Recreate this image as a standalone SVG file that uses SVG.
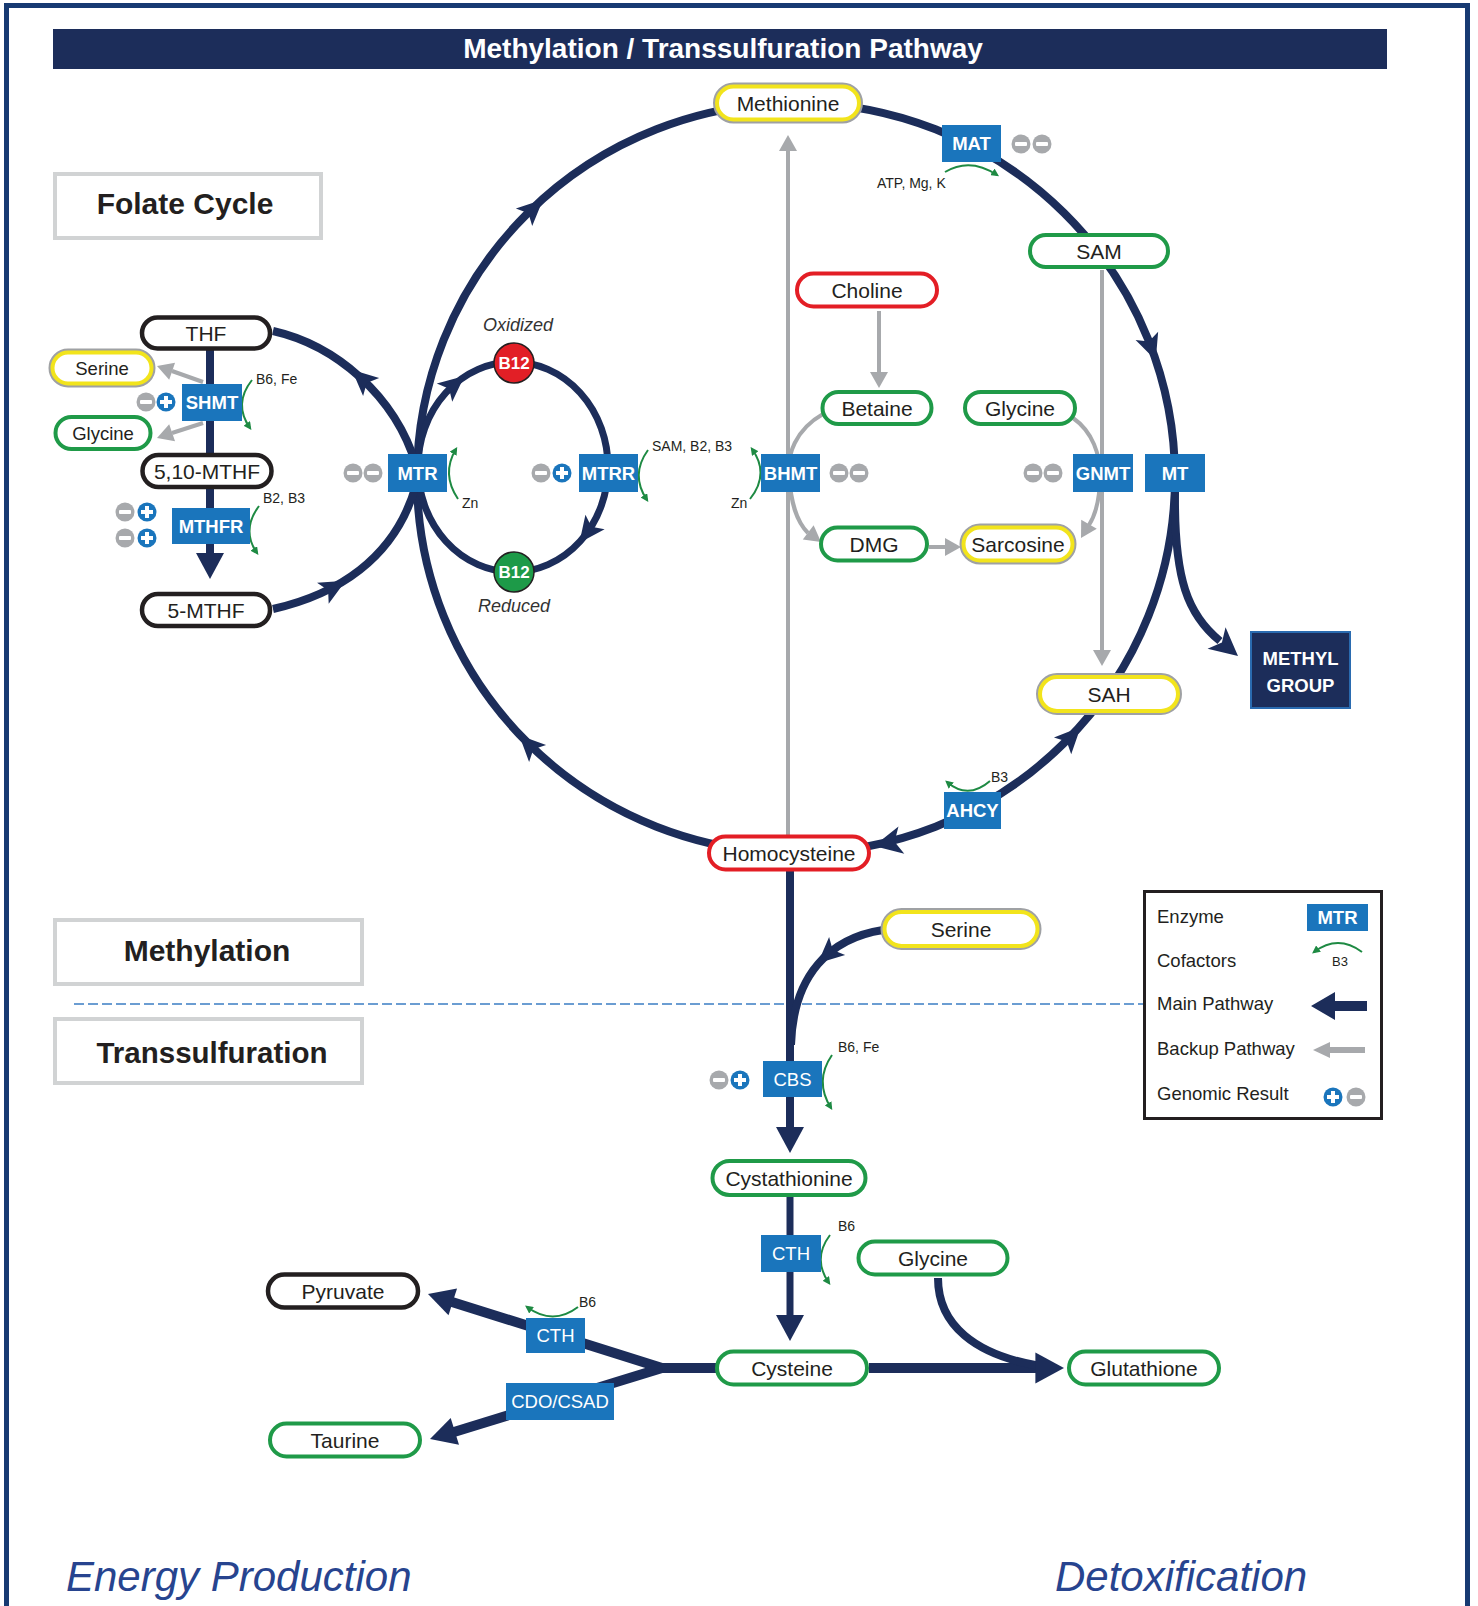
<svg xmlns="http://www.w3.org/2000/svg" width="1478" height="1606" viewBox="0 0 1478 1606">
<defs>
<style>
text{font-family:"Liberation Sans",Arial,Helvetica,sans-serif;fill:#231f20}
.nav{fill:none;stroke:#1c2d5a;stroke-width:8}
.gry{fill:none;stroke:#a7a9ac;stroke-width:4}
.cof{fill:none;stroke:#1e8a43;stroke-width:2;marker-end:url(#cm)}
.enz{fill:#1a75bc}
.et{font-size:18.5px;font-weight:bold;fill:#fff;text-anchor:middle}
.er{font-size:18.5px;fill:#fff;text-anchor:middle}
.nt{font-size:21px;text-anchor:middle}
.ns{font-size:18.5px;text-anchor:middle}
.pg{fill:#fff;stroke:#1f9a48;stroke-width:4}
.pr{fill:#fff;stroke:#e31e25;stroke-width:4}
.pk{fill:#fff;stroke:#231f20;stroke-width:4.5}
.py{fill:#fff;stroke:#f2e41c;stroke-width:4}
.pyo{fill:none;stroke:#9fa1a4;stroke-width:8}
.cl{font-size:14px}
.sec{fill:#fff;stroke:#d1d3d4;stroke-width:4}
.secT{font-size:30px;font-weight:bold;text-anchor:middle}
.lg{font-size:18.5px}
.big{font-size:42px;font-style:italic;fill:#27448f}
.b12{font-size:17px;font-weight:bold;fill:#fff;text-anchor:middle}
.it{font-size:18px;font-style:italic;text-anchor:middle;fill:#333}
</style>
<marker id="cm" viewBox="0 0 10 10" refX="7" refY="5" markerWidth="8" markerHeight="8" orient="auto" markerUnits="userSpaceOnUse"><path d="M0,0 L10,5 L0,10 Z" fill="#1e8a43"/></marker>
<path id="ma" d="M11,0 L-15,-12 L-9,0 L-15,12 Z" fill="#1c2d5a"/>
<path id="mb" d="M0,0 L-28,-14 L-21,0 L-28,14 Z" fill="#1c2d5a"/>
<path id="ea" d="M0,0 L-26,-14 L-26,14 Z" fill="#1c2d5a"/>
<path id="ga" d="M0,0 L-16,-9 L-16,9 Z" fill="#a7a9ac"/>
<g id="minus"><circle r="9.5" fill="#a7a9ac"/><rect x="-6" y="-2" width="12" height="4" rx="1" fill="#fff"/></g>
<g id="plus"><circle r="9.5" fill="#1a75bc"/><rect x="-6" y="-2" width="12" height="4" fill="#fff"/><rect x="-2" y="-6" width="4" height="12" fill="#fff"/></g>
</defs>

<rect x="0" y="0" width="1478" height="1606" fill="#fff"/>
<rect x="6.5" y="5.5" width="1461" height="1650" fill="none" stroke="#173a72" stroke-width="5"/>

<g id="title">
<rect x="53" y="29" width="1334" height="40" fill="#1c2d5a"/>
<text x="723" y="58" style="font-size:28px;font-weight:bold;fill:#fff;text-anchor:middle">Methylation / Transsulfuration Pathway</text>
</g>

<g id="sections">
<rect class="sec" x="55" y="174" width="266" height="64"/>
<text class="secT" x="185" y="214">Folate Cycle</text>
<rect class="sec" x="55" y="920" width="307" height="64"/>
<text class="secT" x="207" y="961">Methylation</text>
<rect class="sec" x="55" y="1019" width="307" height="64"/>
<text class="secT" x="212" y="1063" style="font-size:29.5px">Transsulfuration</text>
<line x1="74" y1="1004" x2="1143" y2="1004" stroke="#3b7dc4" stroke-width="1.5" stroke-dasharray="10,4"/>
</g>

<g id="connectors">
<line class="gry" x1="788" y1="835" x2="788" y2="150"/>
<use href="#ga" transform="translate(788 135) rotate(-90)"/>
<line class="gry" x1="879" y1="311" x2="879" y2="373"/>
<use href="#ga" transform="translate(879 388) rotate(90)"/>
<path class="gry" d="M823,414 C795,430 787,455 789,475 C791,505 797,522 808,533"/>
<use href="#ga" transform="translate(821 542) rotate(37)"/>
<line class="gry" x1="929" y1="547" x2="946" y2="547"/>
<use href="#ga" transform="translate(961 547) rotate(0)"/>
<path class="gry" d="M1073,418 C1093,432 1100,455 1100,475 C1100,500 1096,514 1089,525"/>
<use href="#ga" transform="translate(1081 538) rotate(120)"/>
<line class="gry" x1="1102" y1="270" x2="1102" y2="651"/>
<use href="#ga" transform="translate(1102 666) rotate(90)"/>
<line class="gry" x1="203" y1="382" x2="172" y2="371"/>
<use href="#ga" transform="translate(157 366) rotate(199)"/>
<line class="gry" x1="203" y1="423" x2="172" y2="433"/>
<use href="#ga" transform="translate(157 438) rotate(161)"/>

<ellipse class="nav" cx="796" cy="478" rx="379" ry="375"/>
<ellipse class="nav" cx="513" cy="467" rx="95" ry="105" style="stroke-width:7"/>
<path class="nav" d="M416,465 C395,395 335,345 273,331"/>
<path class="nav" d="M273,609 C335,595 395,560 416,485"/>
<path class="nav" d="M1175,492 C1174,580 1188,615 1220,641"/>
<line class="nav" x1="210" y1="350" x2="210" y2="455"/>
<line class="nav" x1="210" y1="489" x2="210" y2="556"/>
<line class="nav" x1="790" y1="871" x2="790" y2="1130"/>
<path class="nav" d="M883,930 C830,938 793,975 791,1045"/>
<line class="nav" x1="790" y1="1197" x2="790" y2="1318" style="stroke-width:7"/>
<line class="nav" x1="869" y1="1368" x2="1040" y2="1368" style="stroke-width:10"/>
<path class="nav" d="M938,1278 C938,1325 975,1355 1040,1366"/>
<path class="nav" d="M716,1368 L662,1368 L452,1302" style="stroke-width:10"/>
<path class="nav" d="M662,1368 L454,1432" style="stroke-width:10"/>

<use href="#ma" transform="translate(535 207) rotate(-43)"/>
<use href="#ma" transform="translate(527 743) rotate(-135)"/>
<use href="#ma" transform="translate(1152 350) rotate(70)"/>
<use href="#ma" transform="translate(1073 735) rotate(-46)"/>
<use href="#mb" transform="translate(874 846) rotate(168)"/>
<use href="#ma" transform="translate(456 383) rotate(-40)"/>
<use href="#ma" transform="translate(586 534) rotate(127)"/>
<use href="#ma" transform="translate(360 377) rotate(-138)"/>
<use href="#ma" transform="translate(336 586) rotate(-29)"/>
<use href="#ma" transform="translate(826 956) rotate(138)"/>
<use href="#mb" transform="translate(1238 656) rotate(40)"/>
<use href="#ea" transform="translate(210 579) rotate(90)"/>
<use href="#ea" transform="translate(790 1153) rotate(90)"/>
<use href="#ea" transform="translate(790 1341) rotate(90)"/>
<use href="#ea" transform="translate(1064 1368) scale(1.1)"/>
<use href="#ea" transform="translate(428 1294) rotate(197.7)"/>
<use href="#ea" transform="translate(430 1439) rotate(162.8)"/>
</g>

<g id="cofactors">
<path class="cof" d="M252,380 Q233,404 250,428"/>
<text class="cl" x="256" y="384">B6, Fe</text>
<path class="cof" d="M259,506 Q241,530 257,553"/>
<text class="cl" x="263" y="503">B2, B3</text>
<path class="cof" d="M458,499 Q441,474 456,449"/>
<text class="cl" x="462" y="508">Zn</text>
<path class="cof" d="M648,450 Q630,475 647,500"/>
<text class="cl" x="652" y="451">SAM, B2, B3</text>
<path class="cof" d="M750,499 Q770,474 752,449"/>
<text class="cl" x="731" y="508">Zn</text>
<path class="cof" d="M945,172 Q970,157 997,175"/>
<text class="cl" x="877" y="188">ATP, Mg, K</text>
<path class="cof" d="M990,781 Q968,800 947,782"/>
<text class="cl" x="991" y="782">B3</text>
<path class="cof" d="M832,1055 Q814,1081 831,1108"/>
<text class="cl" x="838" y="1052">B6, Fe</text>
<path class="cof" d="M830,1235 Q812,1259 829,1283"/>
<text class="cl" x="838" y="1231">B6</text>
<path class="cof" d="M578,1307 Q553,1326 527,1307"/>
<text class="cl" x="579" y="1307">B6</text>
</g>

<g id="genomic">
<use href="#minus" x="1021" y="144"/><use href="#minus" x="1042" y="144"/>
<use href="#minus" x="146" y="402"/><use href="#plus" x="166" y="402"/>
<use href="#minus" x="125" y="512"/><use href="#plus" x="147" y="512"/>
<use href="#minus" x="125" y="538"/><use href="#plus" x="147" y="538"/>
<use href="#minus" x="353" y="473"/><use href="#minus" x="373" y="473"/>
<use href="#minus" x="541" y="473"/><use href="#plus" x="562" y="473"/>
<use href="#minus" x="839" y="473"/><use href="#minus" x="859" y="473"/>
<use href="#minus" x="1033" y="473"/><use href="#minus" x="1053" y="473"/>
<use href="#minus" x="719" y="1080"/><use href="#plus" x="740" y="1080"/>
</g>

<g id="enzymes">
<g id="MAT"><rect class="enz" x="942" y="125" width="59" height="37"/><text class="et" x="971.5" y="150">MAT</text></g>
<g id="SHMT"><rect class="enz" x="182" y="384" width="60" height="37"/><text class="et" x="212" y="409">SHMT</text></g>
<g id="MTHFR"><rect class="enz" x="172" y="508" width="78" height="36"/><text class="et" x="211" y="532.5">MTHFR</text></g>
<g id="MTR"><rect class="enz" x="388" y="454" width="59" height="38"/><text class="et" x="417.5" y="479.5">MTR</text></g>
<g id="MTRR"><rect class="enz" x="579" y="454" width="59" height="38"/><text class="et" x="608.5" y="479.5">MTRR</text></g>
<g id="BHMT"><rect class="enz" x="761" y="454" width="59" height="38"/><text class="et" x="790.5" y="479.5">BHMT</text></g>
<g id="GNMT"><rect class="enz" x="1073" y="454" width="60" height="38"/><text class="et" x="1103" y="479.5">GNMT</text></g>
<g id="MT"><rect class="enz" x="1145" y="454" width="60" height="38"/><text class="et" x="1175" y="479.5">MT</text></g>
<g id="AHCY"><rect class="enz" x="944" y="792" width="57" height="37"/><text class="et" x="972.5" y="817">AHCY</text></g>
<g id="CBS"><rect class="enz" x="763" y="1061" width="59" height="36"/><text class="er" x="792.5" y="1085.5">CBS</text></g>
<g id="CTH1"><rect class="enz" x="761" y="1235" width="60" height="37"/><text class="er" x="791" y="1260">CTH</text></g>
<g id="CTH2"><rect class="enz" x="526" y="1318" width="59" height="35"/><text class="er" x="555.5" y="1342">CTH</text></g>
<g id="CDO"><rect class="enz" x="506" y="1383" width="108" height="37"/><text class="er" x="560" y="1408">CDO/CSAD</text></g>
</g>

<g id="nodes">
<g id="Methionine"><rect class="pyo" x="717" y="86.5" width="142" height="33" rx="16.5"/><rect class="py" x="717" y="86.5" width="142" height="33" rx="16.5"/><text class="nt" x="788" y="110.5">Methionine</text></g>
<g id="SAM"><rect class="pg" x="1030" y="235" width="138" height="32" rx="16"/><text class="nt" x="1099" y="258.5">SAM</text></g>
<g id="Choline"><rect class="pr" x="797" y="273.5" width="140" height="33" rx="16.5"/><text class="nt" x="867" y="297.5">Choline</text></g>
<g id="Betaine"><rect class="pg" x="822.5" y="392" width="109" height="32" rx="16"/><text class="nt" x="877" y="415.5">Betaine</text></g>
<g id="GlycineR"><rect class="pg" x="965" y="392" width="110" height="32" rx="16"/><text class="nt" x="1020" y="415.5">Glycine</text></g>
<g id="DMG"><rect class="pg" x="821" y="527.5" width="106" height="33" rx="16.5"/><text class="nt" x="874" y="551.5">DMG</text></g>
<g id="Sarcosine"><rect class="pyo" x="963.5" y="527.5" width="109" height="33" rx="16.5"/><rect class="py" x="963.5" y="527.5" width="109" height="33" rx="16.5"/><text class="nt" x="1018" y="551.5">Sarcosine</text></g>
<g id="SAH"><rect class="pyo" x="1040" y="677" width="138" height="34" rx="17"/><rect class="py" x="1040" y="677" width="138" height="34" rx="17"/><text class="nt" x="1109" y="701.5">SAH</text></g>
<g id="Homocysteine"><rect class="pr" x="709" y="836.5" width="160" height="33" rx="16.5"/><text class="nt" x="789" y="860.5">Homocysteine</text></g>
<g id="SerineT"><rect class="pyo" x="884.5" y="912" width="153" height="34" rx="17"/><rect class="py" x="884.5" y="912" width="153" height="34" rx="17"/><text class="nt" x="961" y="936.5">Serine</text></g>
<g id="Cystathionine"><rect class="pg" x="712.5" y="1161" width="153" height="34" rx="17"/><text class="nt" x="789" y="1185.5">Cystathionine</text></g>
<g id="GlycineT"><rect class="pg" x="858.5" y="1241.5" width="149" height="33" rx="16.5"/><text class="nt" x="933" y="1265.5">Glycine</text></g>
<g id="Cysteine"><rect class="pg" x="717" y="1351.5" width="150" height="33" rx="16.5"/><text class="nt" x="792" y="1375.5">Cysteine</text></g>
<g id="Glutathione"><rect class="pg" x="1069" y="1351.5" width="150" height="33" rx="16.5"/><text class="nt" x="1144" y="1375.5">Glutathione</text></g>
<g id="Pyruvate"><rect class="pk" x="268" y="1274.5" width="150" height="33" rx="16.5"/><text class="nt" x="343" y="1298.5">Pyruvate</text></g>
<g id="Taurine"><rect class="pg" x="270" y="1423.5" width="150" height="33" rx="16.5"/><text class="nt" x="345" y="1447.5">Taurine</text></g>
<g id="THF"><rect class="pk" x="142" y="317.5" width="128" height="31" rx="15.5"/><text class="nt" x="206" y="340.5">THF</text></g>
<g id="SerineF"><rect class="pyo" x="52.5" y="352.5" width="99" height="31" rx="15.5"/><rect class="py" x="52.5" y="352.5" width="99" height="31" rx="15.5"/><text class="ns" x="102" y="374.5">Serine</text></g>
<g id="GlycineF"><rect class="pg" x="55.5" y="417" width="95" height="32" rx="16"/><text class="ns" x="103" y="439.5">Glycine</text></g>
<g id="MTHF510"><rect class="pk" x="142.5" y="455" width="129" height="32" rx="16"/><text class="nt" x="207" y="478.5">5,10-MTHF</text></g>
<g id="MTHF5"><rect class="pk" x="142" y="594" width="128" height="32" rx="16"/><text class="nt" x="206" y="617.5">5-MTHF</text></g>
<g id="B12ox"><circle cx="514" cy="363" r="20" fill="#e21f26" stroke="#231f20" stroke-width="1.5"/><text class="b12" x="514" y="369">B12</text></g>
<text class="it" x="518" y="331">Oxidized</text>
<g id="B12red"><circle cx="514" cy="572" r="20" fill="#1d9a48" stroke="#231f20" stroke-width="1.5"/><text class="b12" x="514" y="578">B12</text></g>
<text class="it" x="514" y="612">Reduced</text>
<g id="MethylGroup"><rect x="1251" y="632" width="99" height="76" fill="#1c2d5a" stroke="#2a6bb0" stroke-width="2"/><text class="et" x="1300.5" y="665">METHYL</text><text class="et" x="1300.5" y="692">GROUP</text></g>
</g>

<g id="legend">
<rect x="1144.5" y="891.5" width="237" height="227" fill="#fff" stroke="#231f20" stroke-width="3"/>
<text class="lg" x="1157" y="923">Enzyme</text>
<rect class="enz" x="1307" y="904" width="61" height="27"/><text class="et" x="1337.5" y="924">MTR</text>
<text class="lg" x="1157" y="967">Cofactors</text>
<path class="cof" d="M1362,952 Q1338,934 1314,952"/>
<text x="1340" y="966" style="font-size:13px;text-anchor:middle">B3</text>
<text class="lg" x="1157" y="1010">Main Pathway</text>
<polygon points="1311,1006 1335,992 1335,1001 1367,1001 1367,1011 1335,1011 1335,1020" fill="#1c2d5a"/>
<text class="lg" x="1157" y="1055">Backup Pathway</text>
<polygon points="1313,1050 1330,1042 1330,1047 1365,1047 1365,1053 1330,1053 1330,1058" fill="#a7a9ac"/>
<text class="lg" x="1157" y="1100">Genomic Result</text>
<use href="#plus" x="1333" y="1097"/><use href="#minus" x="1356" y="1097"/>
</g>

<g id="footer">
<text class="big" x="66" y="1591">Energy Production</text>
<text class="big" x="1055" y="1591">Detoxification</text>
</g>
</svg>
